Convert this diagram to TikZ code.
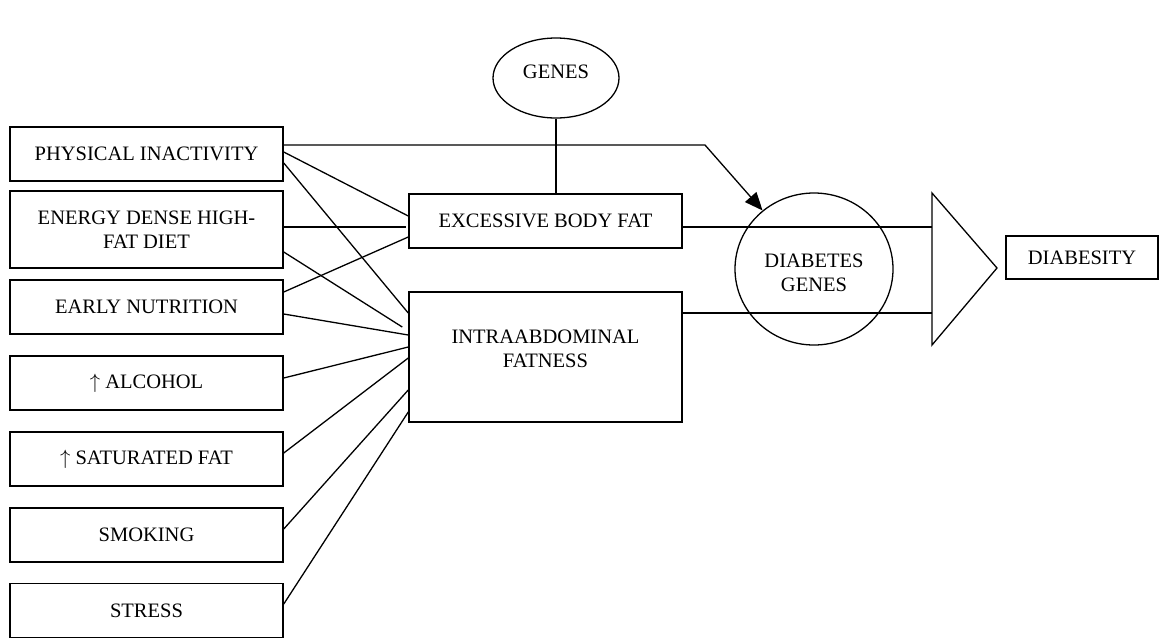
\documentclass[tikz,border=0pt]{standalone}
\usepackage{fontspec}
\setmainfont{Liberation Serif}
\usetikzlibrary{shapes.geometric,arrows.meta}
\begin{document}
\begin{tikzpicture}[x=1pt,y=-1pt,
  txt/.style={font=\fontsize{20.5}{23.5}\selectfont},
  box/.style={draw,line width=1.5pt,rectangle,inner sep=0pt,align=center,txt},
  leftbox/.style={box,minimum width=273pt,minimum height=54pt},
  oval/.style={draw,ellipse,line width=1.3pt,inner sep=0pt},
  link/.style={line width=1.3pt},
  lbl/.style={align=center,inner sep=0pt,txt}]
\useasboundingbox (0,0) rectangle (1167,638);
% left boxes
\node[leftbox] (pi) at (146.5,154) {PHYSICAL INACTIVITY};
\node[leftbox,minimum height=77pt] (ed) at (146.5,229.5) {ENERGY DENSE HIGH-\\FAT DIET};
\node[leftbox] (en) at (146.5,307) {EARLY NUTRITION};
\node[leftbox] (al) at (146.5,383) {$\uparrow$ ALCOHOL};
\node[leftbox] (sf) at (146.5,459) {$\uparrow$ SATURATED FAT};
\node[leftbox] (sm) at (146.5,535) {SMOKING};
\node[leftbox] (st) at (146.5,610.5) {STRESS};
% middle
\node[box,minimum width=273pt,minimum height=54pt] (ebf) at (545.5,221) {EXCESSIVE BODY FAT};
\node[box,minimum width=273pt,minimum height=130pt] (iaf) at (545.5,357) {};
\node[lbl] (iaft) at (545.5,349) {INTRAABDOMINAL\\FATNESS};
\node[oval,minimum width=126pt,minimum height=80pt] (genes) at (556,78) {};
\node[lbl] (genest) at (556,71.5) {GENES};
% right
\node[oval,minimum width=158pt,minimum height=152pt] (dg) at (814,269) {};
\node[lbl] (dgt) at (814,273) {DIABETES\\GENES};
\coordinate (t1) at (932,193);
\coordinate (t2) at (932,345);
\coordinate (t3) at (997,268);
\draw[link,line join=miter] (t1) -- (t3) -- (t2) -- cycle;
\node[box,minimum width=152pt,minimum height=43pt] (dby) at (1082,257.5) {DIABESITY};
% connectors
\coordinate (bend) at (705,145);
\draw[link,-{Triangle[length=18pt,width=15pt]}] ([yshift=9pt]pi.east) -- (bend) -- (dg);
\draw[link] (genes.south) -- (genes.south |- ebf.north);
\draw[link] ([yshift=2pt]pi.east) -- ([yshift=5pt]ebf.west);
\draw[link] ([yshift=-9pt]pi.east) -- ([yshift=44pt]iaf.west);
\draw[link] ([yshift=2.5pt]ed.east) -- ([xshift=-2pt,yshift=-6pt]ebf.west);
\draw[link] ([yshift=-22.5pt]ed.east) -- ([xshift=-6pt,yshift=30pt]iaf.west);
\draw[link] ([yshift=15pt]en.east) -- ([yshift=-16pt]ebf.west);
\draw[link] ([yshift=-7pt]en.east) -- ([yshift=22pt]iaf.west);
\draw[link] ([yshift=5pt]al.east) -- ([yshift=10pt]iaf.west);
\draw[link] ([yshift=6pt]sf.east) -- ([yshift=-1pt]iaf.west);
\draw[link] ([yshift=6pt]sm.east) -- ([yshift=-33pt]iaf.west);
\draw[link] ([yshift=6.5pt]st.east) -- ([yshift=-55pt]iaf.west);
\coordinate (e1) at ([yshift=-6pt]ebf.east);
\coordinate (e2) at ([yshift=44pt]iaf.east);
\draw[link] (e1) -- (e1 -| t1);
\draw[link] (e2) -- (e2 -| t1);
\end{tikzpicture}
\end{document}
